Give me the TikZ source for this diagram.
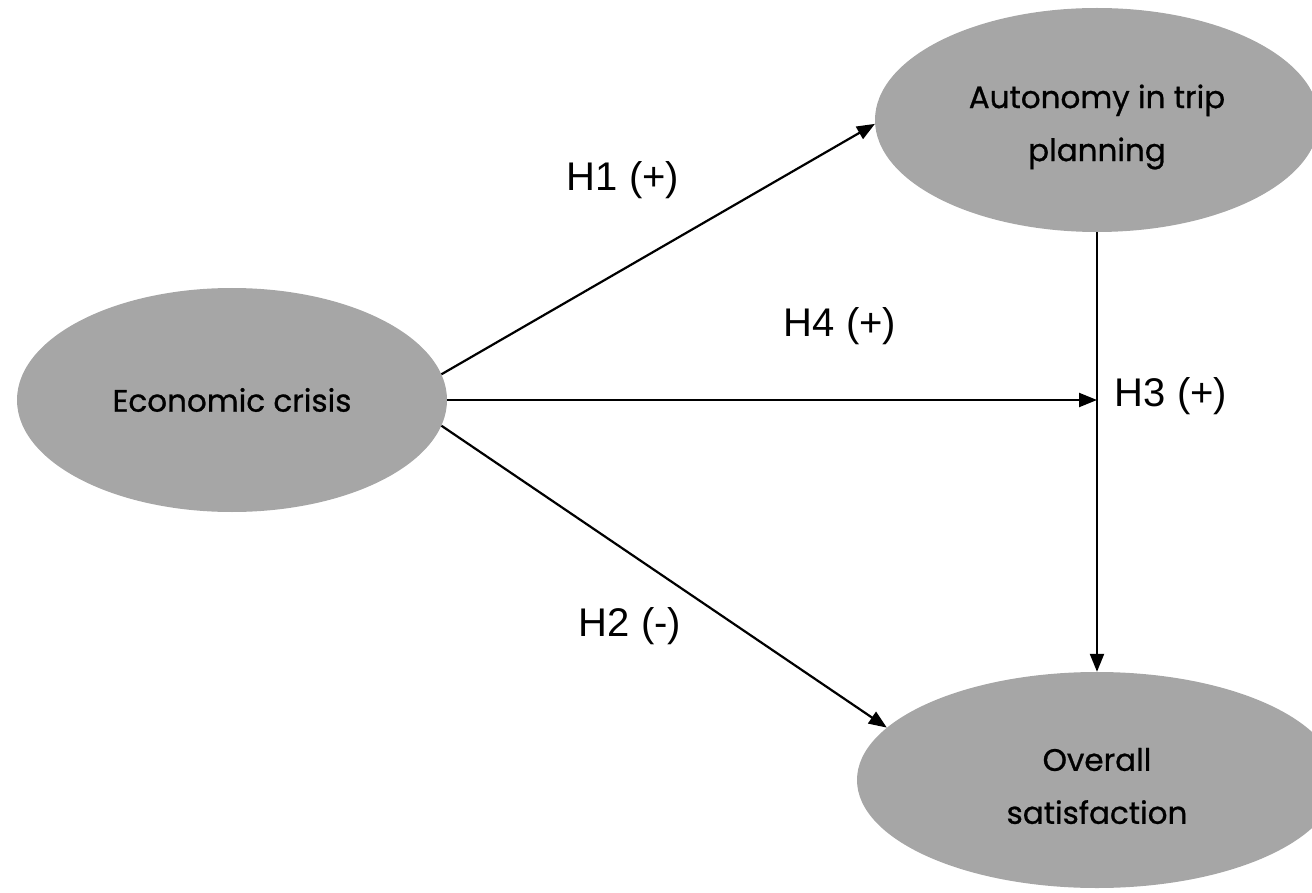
\documentclass[tikz,border=0pt]{standalone}
\usepackage{fontspec}
\setmainfont{Liberation Sans}
\newfontfamily\ellfont[FakeBold=0.8]{Poppins}
\usetikzlibrary{shapes.geometric,arrows.meta}
\definecolor{ellgray}{HTML}{A6A6A6}
\tikzset{
  ell/.style={ellipse, fill=ellgray, draw=none, inner sep=0pt, align=center,
    font=\ellfont\fontsize{31}{53}\selectfont},
  elltext/.style={align=center, inner sep=0pt, font=\ellfont\fontsize{31}{53}\selectfont},
  arr/.style={line width=2.2pt, -{Triangle[length=18pt,width=14pt]}},
  lbl/.style={font=\fontsize{40}{46}\selectfont, inner sep=0pt}
}
\begin{document}
\begin{tikzpicture}[x=1pt,y=-1pt]
\useasboundingbox (0,0) rectangle (1312,893);
\node[ell, minimum width=430pt, minimum height=224pt] (econ) at (232,400) {Economic crisis};
\node[ell, minimum width=444pt, minimum height=224pt,
  label={[elltext, yshift=-7pt]center:Autonomy in trip\\planning}] (auto) at (1097,120) {};
\node[ell, minimum width=480pt, minimum height=216pt,
  label={[elltext, yshift=-6pt]center:Overall\\satisfaction}] (over) at (1097,780) {};
\coordinate (h4end) at (econ.east -| auto.south);
\draw[arr] (econ.7.6) -- (auto.181.3);
\draw[arr] (econ.east) -- (h4end);
\draw[arr] (auto.south) -- (over.north);
\draw[arr] (econ.-7.8) -- (over.166);
\node[lbl] (l1) at (623,180) {H1 (+)};
\node[lbl] (l4) at (840,326) {H4 (+)};
\node[lbl] (l3) at (1171,396) {H3 (+)};
\node[lbl] (l2) at (630,626) {H2 (-)};
\end{tikzpicture}
\end{document}
